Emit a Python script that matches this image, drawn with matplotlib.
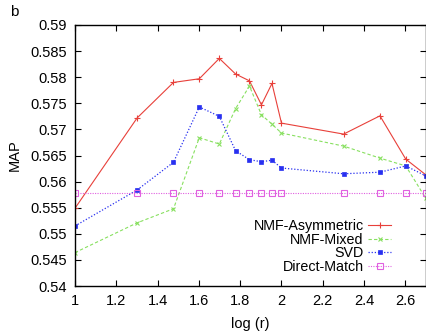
import matplotlib
matplotlib.use("Agg")
from matplotlib import pyplot as plt

plt.rcParams['font.family'] = ['Liberation Sans', 'DejaVu Sans']

log_r = [1.0, 1.301, 1.477, 1.602, 1.699, 1.778, 1.845, 1.903, 1.954, 2.0, 2.301, 2.477, 2.602, 2.699]

nmf_asym = [0.5549, 0.5722, 0.5790, 0.5797, 0.5836, 0.5806, 0.5793, 0.5747, 0.5788, 0.5712,
            0.5691, 0.5726, 0.5643, 0.5613]
nmf_mixed = [0.5464, 0.5521, 0.5548, 0.5684, 0.5672, 0.5740, 0.5783, 0.5728, 0.5710, 0.5693,
             0.5668, 0.5645, 0.5630, 0.5568]
svd = [0.5515, 0.5584, 0.5637, 0.5743, 0.5725, 0.5659, 0.5642, 0.5638, 0.5641, 0.5626,
       0.5615, 0.5618, 0.5630, 0.5611]
direct_match = [0.5578] * len(log_r)

x_ticks = [1, 1.2, 1.4, 1.6, 1.8, 2, 2.2, 2.4, 2.6]
x_labels = ["1", "1.2", "1.4", "1.6", "1.8", "2", "2.2", "2.4", "2.6"]
y_ticks = [0.54, 0.545, 0.55, 0.555, 0.56, 0.565, 0.57, 0.575, 0.58, 0.585, 0.59]
y_labels = ["0.54", "0.545", "0.55", "0.555", "0.56", "0.565", "0.57", "0.575", "0.58", "0.585", "0.59"]

fig = plt.figure(figsize=(4.26, 3.31), dpi=100)
ax = fig.add_axes([75 / 426, 45 / 331, 351 / 426, 261 / 331])

ax.plot(log_r, nmf_asym, color='#e8403a', lw=0.8, ls='-', marker='+', ms=4, mew=0.8,
        label='NMF-Asymmetric')
ax.plot(log_r, nmf_mixed, color='#88e060', lw=0.8, ls=(0, (3, 2)), marker='x', ms=3.5, mew=0.8,
        label='NMF-Mixed')
ax.plot(log_r, svd, color='#2830f0', lw=0.9, ls=(0, (1, 1.5)), marker='s', ms=2.8, mew=0.5,
        label='SVD')
ax.plot(log_r, direct_match, color='#e060e0', lw=0.8, ls=(0, (1, 1.2)), marker='s', ms=4,
        mfc='none', mew=0.8, label='Direct-Match')

ax.set_xlim(1, 2.7)
ax.set_ylim(0.54, 0.59)
ax.set_xticks(x_ticks)
ax.set_xticklabels(x_labels)
ax.set_yticks(y_ticks)
ax.set_yticklabels(y_labels)
ax.tick_params(direction='in', top=True, right=True, labelsize=10.5, length=4, width=0.8,
               pad=6)
for s in ax.spines.values():
    s.set_linewidth(1.0)

ax.set_xlabel("log (r)", fontsize=10.5, labelpad=6)
ax.set_ylabel("MAP", fontsize=10.5, labelpad=6)
fig.text(10 / 426, 1 - 12 / 331, "b", fontsize=11, va='center', ha='left')

leg = ax.legend(loc='lower right', bbox_to_anchor=(0.922, 0.018), frameon=False, fontsize=10.3,
                markerfirst=False, handlelength=1.65, handletextpad=0.3, labelspacing=-0.02,
                borderpad=0)
for t in leg.get_texts():
    t.set_ha('right')
leg._legend_box.align = 'right'

fig.savefig("out.png", dpi=100)
